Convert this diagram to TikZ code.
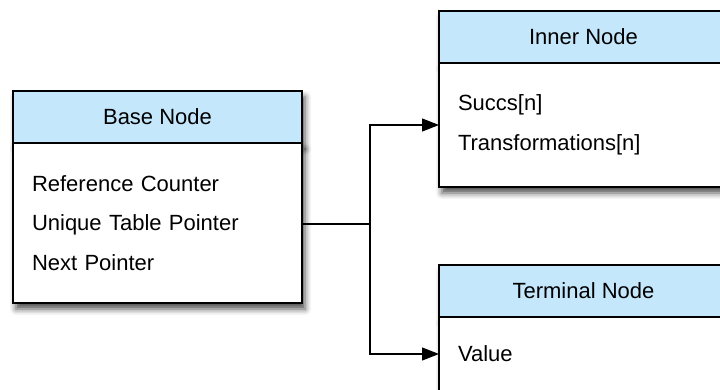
\documentclass[tikz,border=0pt]{standalone}
\usepackage{fontspec}
\setmainfont{Liberation Sans}
\usetikzlibrary{positioning,arrows.meta,shadows.blur}
\definecolor{headblue}{RGB}{196,231,252}

\begin{document}
\begin{tikzpicture}[x=1pt,y=-1pt,>={Triangle[length=17pt,width=13pt]},
                    node distance=0pt,
                    boxshadow/.style={blur shadow={shadow xshift=3pt,shadow yshift=-6pt,
                      shadow blur radius=6pt,shadow opacity=70}},
                    boxhead/.style={draw,line width=1.4pt,fill=headblue,minimum width=289pt,
                      minimum height=52pt,inner sep=0pt,outer sep=0pt,boxshadow,
                      font=\fontsize{22}{26}\selectfont},
                    boxbody/.style={draw,line width=1.4pt,fill=white,text width=251pt,
                      inner xsep=19pt,inner ysep=0pt,outer sep=0pt,align=left,boxshadow,
                      font=\fontsize{22}{39.5}\selectfont}]
  \path[use as bounding box,clip] (0,0) rectangle (720,390);

  \node[boxhead] (basehead) at (157.5,117) {Base Node};
  \node[boxbody,minimum height=160pt] (basebody) [below=of basehead]
    {Reference Counter\\Unique Table Pointer\\Next Pointer};

  \node[boxhead] (innerhead) at (583.5,37) {Inner Node};
  \node[boxbody,minimum height=124pt] (innerbody) [below=of innerhead]
    {Succs[n]\\Transformations[n]};

  \node[boxhead] (termhead) [below=78pt of innerbody] {Terminal Node};
  \node[boxbody,minimum height=74pt] (termbody) [below=of termhead] {Value};

  \coordinate (split) at (370,224);

  \draw[line width=1.3pt] (basebody.east |- split) -- (split);
  \draw[->,line width=1.3pt] (split) |- (innerbody.west);
  \draw[->,line width=1.3pt] (split) |- (termbody.west);
\end{tikzpicture}
\end{document}
